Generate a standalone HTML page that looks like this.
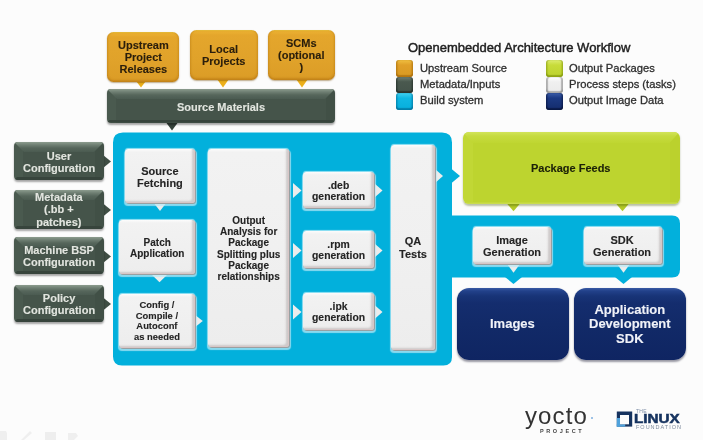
<!DOCTYPE html>
<html><head><meta charset="utf-8">
<style>
*{margin:0;padding:0;box-sizing:border-box}
html,body{width:703px;height:440px;overflow:hidden;background:#FCFCFC;font-family:"Liberation Sans",sans-serif}
.a{position:absolute}
.bx{position:absolute;display:flex;align-items:center;justify-content:center;text-align:center;font-weight:bold;font-size:11px;line-height:12.2px;overflow:hidden}
.bx>span{position:relative;z-index:2;will-change:transform;-webkit-text-stroke:0.12px currentColor}
.a{will-change:transform}
.bx::before,.bx::after{content:"";position:absolute;left:0;right:0;z-index:1}
/* orange */
.or{background:linear-gradient(#F5D24A 0,#ECB232 1.5px,#E4A62C 5px,#E0A22A 60%,#DB9C26 100%);border-radius:6.5px;color:#2A1E0C;box-shadow:0 1px 1.5px rgba(110,70,0,.45),inset 0 0 2.5px rgba(160,100,10,.55),inset 0 -2px 2px rgba(170,100,10,.3)}
/* dark gray-green bevel */
.dk{background:linear-gradient(to right,#4A5A4F 0,#4A5A4F 9px,#45544A 9px,#45544A calc(100% - 9px),#415046 calc(100% - 9px));border-radius:4px;color:#E2E5DF;box-shadow:0 1.5px 2px rgba(0,0,0,.35)}
.dk::before{top:0;height:10px;background:linear-gradient(#8C9C8E,#6E7E72 3px,#56665B 6px,#4B5B51 10px);clip-path:polygon(0 0,100% 0,calc(100% - 10px) 100%,10px 100%)}
.dk::after{bottom:0;height:3px;background:#37443C;clip-path:polygon(3px 0,calc(100% - 3px) 0,100% 100%,0 100%)}
/* white process */
.wh{background:linear-gradient(#FCFCFC 0,#F2F2F2 3px,#F0F0F0 50%,#EDEDED 100%);border-radius:3px;color:#242424;box-shadow:inset -1px -1px 0 #D8C6C6,inset -3px -2px 2px rgba(130,115,115,.3),1px 1px 0 0 #98A0A2,0.5px 2px 1px 1px rgba(185,232,246,.75),0 -1px 1px rgba(220,250,255,.7)}
/* green */
.gr{background:linear-gradient(to right,#C1D735 0,#C1D735 10px,#BDD42F 10px,#BDD42F calc(100% - 10px),#BBD12D calc(100% - 10px));border-radius:6px;color:#1B2008;box-shadow:0 1.5px 2px rgba(60,80,0,.35)}
.gr::before{top:0;height:11px;background:linear-gradient(#D2E45A,#C6DB3F 4px,#BFD631 11px);clip-path:polygon(0 0,100% 0,calc(100% - 10px) 100%,10px 100%)}
.gr::after{bottom:0;height:2.5px;background:linear-gradient(#C0D634,#CCDE55);clip-path:polygon(3px 0,calc(100% - 3px) 0,100% 100%,0 100%)}
/* navy */
.nv{background:linear-gradient(#3A5BA5 0,#22418A 3px,#183477 8px,#142D6E 15px,#122A68 50%,#0F2562 100%);border-radius:12px;color:#F0F2F8;box-shadow:0 1.5px 2px rgba(0,0,30,.4);font-size:13px;line-height:14.4px}
.cy{background:#02B0DC}
svg{position:absolute;left:0;top:0}
.sw{position:absolute;width:17px;height:16.5px;border-radius:3px}
</style></head><body>

<!-- cyan build system region -->
<svg width="703" height="440">
  <path d="M123 132.5 H442 Q452 132.5 452 142.5 V215.5 H672 Q680 215.5 680 223.5 V269.5 Q680 277.5 672 277.5 H452 V357 Q452 365.6 443.4 365.6 H122 Q113 365.6 113 356.6 V142.5 Q113 132.5 123 132.5 Z" fill="#02B0DC"/>
  <!-- cyan arrow to package feeds -->
  <path d="M451 168.5 L460 176 L451 183.5 Z" fill="#02B0DC"/>
  <!-- cyan pointers below band -->
  <path d="M505 277 L513.5 284 L522 277 Z" fill="#02B0DC"/>
  <path d="M615 277 L623.5 284 L632 277 Z" fill="#02B0DC"/>
  <!-- orange pointers -->
  <path d="M136 81 L141 87.5 L146 81 Z" fill="#ECB01A"/>
  <path d="M217 79 L223 87.5 L229 79 Z" fill="#ECB01A"/>
  <path d="M296 79 L302 87.5 L308 79 Z" fill="#ECB01A"/>
  <!-- source materials pointer -->
  <path d="M165 121 L172 130.5 L179 121 Z" fill="#36433B"/>
  <!-- left config arrows -->
  <path d="M103 155 L111 161.5 L103 168 Z" fill="#3F4E44"/>
  <path d="M103 203.5 L111 210 L103 216.5 Z" fill="#3F4E44"/>
  <path d="M103 250 L111 256.5 L103 263 Z" fill="#3F4E44"/>
  <path d="M103 297.5 L111 304 L103 310.5 Z" fill="#3F4E44"/>
  <!-- white pointers/arrows -->
  <path d="M153 202 L160 211 L167 202 Z" fill="#ECECEC"/>
  <path d="M150 273 L159.5 282.2 L169 273 Z" fill="#ECECEC"/>
  <path d="M192 312.5 L202.8 321 L192 329.5 Z" fill="#ECECEC"/>
  <path d="M293 183 L301.5 190.5 L293 198 Z" fill="#ECECEC"/>
  <path d="M293 243 L301.5 250.5 L293 258 Z" fill="#ECECEC"/>
  <path d="M293 304.5 L301.5 312 L293 319.5 Z" fill="#ECECEC"/>
  <path d="M374 183 L382.5 190.5 L374 198 Z" fill="#ECECEC"/>
  <path d="M374 243 L382.5 250.5 L374 258 Z" fill="#ECECEC"/>
  <path d="M374 304.5 L382.5 312 L374 319.5 Z" fill="#ECECEC"/>
  <path d="M435 169 L443 176 L435 183 Z" fill="#ECECEC"/>
  <path d="M505.5 262 L513.5 272.8 L521.5 262 Z" fill="#ECECEC"/>
  <path d="M615.5 262 L623.5 272.8 L631.5 262 Z" fill="#ECECEC"/>
  <!-- green pointers -->
  <path d="M506.5 203 L513.5 211.3 L520.5 203 Z" fill="#B3C928"/>
  <path d="M615.5 203 L622.5 211.3 L629.5 203 Z" fill="#B3C928"/>
</svg>

<!-- orange -->
<div class="bx or" style="left:107px;top:31.5px;width:72px;height:50.5px;padding-top:1px"><span>Upstream<br>Project<br>Releases</span></div>
<div class="bx or" style="left:190px;top:29.5px;width:68px;height:50px;padding-top:1.6px;line-height:12.4px"><span>Local<br>Projects</span></div>
<div class="bx or" style="left:268.4px;top:30px;width:66.4px;height:50px"><span>SCMs<br>(optional<br>)</span></div>

<div class="bx dk" style="left:107px;top:89px;width:228px;height:33.5px;padding-top:2px"><span>Source Materials</span></div>

<!-- title & legend -->
<div class="a" style="left:408px;top:40px;font-size:13px;color:#1E1E1E;-webkit-text-stroke:0.45px #1E1E1E;white-space:nowrap;letter-spacing:0">Openembedded Architecture Workflow</div>

<div class="sw" style="left:396px;top:60px;background:linear-gradient(#F0C040,#E0A028 30%,#D99A22);box-shadow:inset 0 -2px 1px rgba(150,90,0,.5),inset 1.5px 0 1px rgba(150,90,0,.4),inset -1.5px 0 1px rgba(150,90,0,.4)"></div>
<div class="sw" style="left:396px;top:76.5px;background:linear-gradient(#6F7F73,#4A594F 30%,#44534A);box-shadow:inset 0 -2px 1px rgba(20,30,25,.5),inset 1.5px 0 1px rgba(20,30,25,.4),inset -1.5px 0 1px rgba(20,30,25,.4)"></div>
<div class="sw" style="left:396px;top:93px;background:linear-gradient(#40D0F0,#10B8E4 30%,#06AEDC);box-shadow:inset 0 -2px 1px rgba(0,90,130,.5),inset 1.5px 0 1px rgba(0,90,130,.4),inset -1.5px 0 1px rgba(0,90,130,.4)"></div>
<div class="sw" style="left:546px;top:60px;background:linear-gradient(#DDEC70,#C8DC3A 30%,#BCD22E);box-shadow:inset 0 -2px 1px rgba(110,130,0,.5),inset 1.5px 0 1px rgba(110,130,0,.4),inset -1.5px 0 1px rgba(110,130,0,.4)"></div>
<div class="sw" style="left:546px;top:76.5px;background:linear-gradient(#FFFFFF,#F0F0F0 30%,#EAEAEA);box-shadow:inset 0 -2px 1px rgba(120,120,120,.5),inset 2px 0 1px rgba(120,120,120,.5),inset -2px 0 1px rgba(120,120,120,.5)"></div>
<div class="sw" style="left:546px;top:93px;background:linear-gradient(#3A5CA8,#1C3A84 30%,#142C6C);box-shadow:inset 0 -2px 1px rgba(0,10,40,.5),inset 1.5px 0 1px rgba(0,10,40,.4),inset -1.5px 0 1px rgba(0,10,40,.4)"></div>

<div class="a" style="left:420px;top:60.2px;font-size:11.2px;color:#2E2E2E;-webkit-text-stroke:0.3px #2E2E2E;line-height:16.2px;white-space:nowrap">Upstream Source<br>Metadata/Inputs<br>Build system</div>
<div class="a" style="left:569px;top:60.2px;font-size:11.2px;color:#2E2E2E;-webkit-text-stroke:0.3px #2E2E2E;line-height:16.2px;white-space:nowrap">Output Packages<br>Process steps (tasks)<br>Output Image Data</div>

<!-- left config -->
<div class="bx dk" style="left:14px;top:142px;width:90px;height:38px;padding-top:1.5px"><span>User<br>Configuration</span></div>
<div class="bx dk" style="left:14px;top:190px;width:90px;height:39px;padding-bottom:0.4px;line-height:12.3px"><span>Metadata<br>(.bb +<br>patches)</span></div>
<div class="bx dk" style="left:14px;top:237px;width:90px;height:37px;padding-top:1.5px"><span>Machine BSP<br>Configuration</span></div>
<div class="bx dk" style="left:14px;top:285px;width:90px;height:37px;padding-top:1.5px"><span>Policy<br>Configuration</span></div>

<!-- white process boxes -->
<div class="bx wh" style="left:124.5px;top:149.4px;width:70px;height:53.6px;padding-top:1.5px"><span>Source<br>Fetching</span></div>
<div class="bx wh" style="left:119px;top:220px;width:76px;height:54px;font-size:10px;line-height:11px;padding-top:1.5px"><span>Patch<br>Application</span></div>
<div class="bx wh" style="left:119px;top:294px;width:75.8px;height:54px;font-size:9.4px;line-height:10.5px;padding-top:0.5px"><span>Config /<br>Compile /<br>Autoconf<br>as needed</span></div>
<div class="bx wh" style="left:208px;top:148.8px;width:80.5px;height:198.5px;font-size:10px;line-height:11.2px;padding-top:2px"><span>Output<br>Analysis for<br>Package<br>Splitting plus<br>Package<br>relationships</span></div>
<div class="bx wh" style="left:302.5px;top:171.5px;width:71.5px;height:36px;font-size:10.4px;line-height:11.1px;padding-top:2.6px"><span>.deb<br>generation</span></div>
<div class="bx wh" style="left:302.5px;top:230.5px;width:71.5px;height:37px;font-size:10.4px;line-height:11.1px;padding-top:2.2px"><span>.rpm<br>generation</span></div>
<div class="bx wh" style="left:302.5px;top:293px;width:71.5px;height:36.5px;font-size:10.4px;line-height:11.2px;padding-top:1.1px"><span>.ipk<br>generation</span></div>
<div class="bx wh" style="left:391.3px;top:145.3px;width:43.7px;height:204.5px;line-height:12.6px;padding-top:1px"><span>QA<br>Tests</span></div>
<div class="bx wh" style="left:473px;top:226.5px;width:78px;height:37.5px;padding-top:1px"><span>Image<br>Generation</span></div>
<div class="bx wh" style="left:583.5px;top:226.5px;width:78px;height:37.5px;padding-top:1px"><span>SDK<br>Generation</span></div>

<!-- green -->
<div class="bx gr" style="left:462.5px;top:132px;width:217px;height:72px;padding-top:1px"><span>Package Feeds</span></div>

<!-- navy -->
<div class="bx nv" style="left:457px;top:287.5px;width:111.5px;height:72.5px;padding-top:1.5px"><span>Images</span></div>
<div class="bx nv" style="left:574px;top:287.5px;width:111.5px;height:72.5px;padding-top:1.5px"><span>Application<br>Development<br>SDK</span></div>

<!-- logos -->
<div class="a" style="left:525px;top:402px;font-size:24px;color:#333;letter-spacing:1.1px">yocto</div>
<div class="a" style="left:540px;top:428px;font-size:5.5px;font-weight:bold;color:#444;letter-spacing:2.6px">PROJECT</div>
<div class="a" style="left:591px;top:417px;width:2px;height:2px;border-radius:1px;background:#7FB0E0"></div>

<svg width="703" height="440" style="pointer-events:none">
  <rect x="616.8" y="411.5" width="15.4" height="15.1" fill="#16335F"/>
  <rect x="616.8" y="418" width="3.2" height="8.6" fill="#4FA2DC"/>
  <rect x="616.8" y="424.3" width="8.4" height="2.3" fill="#4FA2DC"/>
  <rect x="620" y="415" width="9" height="9.3" fill="#FCFCFC"/>
</svg>
<div class="a" style="left:636px;top:408px;font-size:5px;color:#8090A8;letter-spacing:0.3px">THE</div>
<div class="a" style="left:634.3px;top:411.7px;font-size:12px;font-weight:bold;color:#16335F;transform:scaleX(1.27);-webkit-text-stroke:0.5px #16335F;transform-origin:0 0">LINUX</div>
<div class="a" style="left:636px;top:423.5px;font-size:5.5px;color:#7D8A9C;letter-spacing:1.0px">FOUNDATION</div>

<svg width="703" height="440" style="pointer-events:none">
  <path d="M0 431 L6 431 L7 433 L7 440 L0 440 Z" fill="#EFEFEF"/>
  <path d="M21 440 L30 431 L32 433 L24 440 Z" fill="#EFEFEF"/>
  <rect x="45" y="432" width="11" height="8" fill="#EEEEEE"/>
  <path d="M68 433 L76 433 L78 436 L74 440 L68 440 Z" fill="#EFEFEF"/>
</svg>
</body></html>
